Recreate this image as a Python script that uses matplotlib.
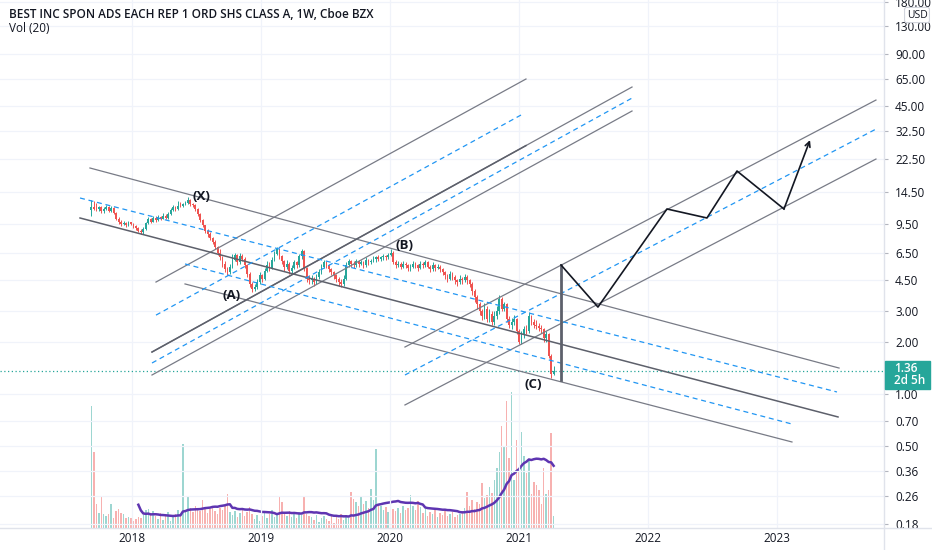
import numpy as np
import pandas as pd
import matplotlib
matplotlib.use("Agg")
import matplotlib.pyplot as plt
from matplotlib.ticker import FuncFormatter, NullLocator, FixedLocator
from matplotlib.patches import Rectangle
from matplotlib.lines import Line2D

plt.rcParams['font.family'] = ['Open Sans', 'DejaVu Sans']

GREEN = "#26a69a"
RED = "#ef5350"
GRAY = "#787b86"
BLUE = "#2196f3"
TXT = "#131722"

# -------------------------------
# weekly candles, BEST (USD), first bar 2017-09-08
# -------------------------------
start_date = "2017-09-08"
first_open = 11.4

close = [11.9, 11.6, 11.5, 11.8, 11.2, 11.6, 11.9, 11.3, 11.7, 11.0,
         10.2, 9.8, 9.5, 9.6, 9.3, 9.7, 9.5, 9.2, 9.0, 8.7,
         8.5, 8.9, 9.6, 10.1, 9.8, 10.3, 10.0, 10.4, 10.2, 10.6,
         10.3, 10.8, 11.4, 11.9, 11.5, 12.1, 12.0, 12.4, 12.6, 13.0,
         12.3, 12.2, 11.6, 10.8, 10.0, 9.3, 8.6, 8.3, 7.9, 7.5,
         7.0, 6.5, 6.1, 5.6, 5.2, 5.0, 5.4, 5.9, 6.3, 5.7,
         6.2, 6.0, 5.5, 4.9, 4.3, 4.0, 4.1, 4.4, 4.8, 4.6,
         5.1, 5.5, 5.3, 5.9, 6.4, 6.8, 6.2, 5.8, 5.4, 5.6,
         5.1, 5.3, 5.7, 5.5, 6.2, 6.6, 5.3, 4.6, 4.5, 4.6,
         4.4, 4.7, 5.0, 5.4, 5.7, 5.5, 5.2, 5.0, 4.8, 4.6,
         4.4, 4.3, 4.6, 5.5, 5.8, 5.6, 5.5, 5.8, 5.6, 5.7,
         5.5, 5.9, 5.7, 5.8, 6.0, 6.1, 6.0, 6.1, 6.2, 6.1,
         6.3, 6.5, 5.7, 5.5, 5.6, 5.4, 5.6, 5.5, 5.3, 5.4,
         5.6, 5.5, 5.3, 5.6, 5.5, 5.7, 5.4, 5.2, 5.5, 5.3,
         5.4, 5.2, 5.0, 4.8, 4.6, 4.9, 4.7, 4.5, 4.4, 4.6,
         4.5, 4.7, 4.5, 4.3, 3.9, 3.6, 3.3, 3.0, 2.8, 3.1,
         2.7, 2.9, 2.6, 2.8, 3.0, 3.5, 3.1, 3.3, 2.7, 2.5,
         2.6, 2.7, 2.3, 2.0, 2.2, 2.35, 2.3, 2.8, 2.6, 2.5,
         2.45, 2.4, 2.35, 2.1, 2.2, 1.65, 1.3, 1.36]

high = [13.0, 12.9, 12.5, 12.1, 12.0, 11.9, 12.2, 12.0, 12.0, 11.8,
        11.1, 10.4, 10.0, 9.9, 9.8, 9.9, 9.8, 9.6, 9.3, 9.1,
        8.9, 9.1, 9.8, 10.4, 10.3, 10.6, 10.5, 10.7, 10.6, 10.9,
        10.8, 11.1, 11.7, 12.2, 12.1, 12.8, 12.7, 12.6, 12.9, 13.6,
        13.2, 12.6, 12.3, 11.7, 11.0, 10.2, 9.4, 8.9, 8.5, 8.0,
        7.7, 7.1, 6.8, 6.2, 5.8, 5.4, 5.6, 6.4, 6.5, 6.4,
        6.5, 6.4, 6.1, 5.6, 5.0, 4.4, 4.3, 4.6, 5.0, 4.9,
        5.3, 5.8, 5.7, 6.1, 6.6, 7.0, 6.9, 6.3, 5.9, 5.9,
        5.7, 5.5, 5.9, 5.8, 6.4, 6.8, 6.7, 5.4, 4.8, 4.8,
        4.7, 4.9, 5.2, 5.6, 5.9, 5.8, 5.6, 5.3, 5.1, 4.9,
        4.7, 4.6, 4.8, 5.7, 6.0, 5.9, 5.8, 6.0, 5.9, 5.9,
        5.8, 6.1, 6.0, 6.0, 6.2, 6.2, 6.3, 6.2, 6.4, 6.3,
        6.5, 6.8, 6.6, 5.9, 5.8, 5.7, 5.8, 5.7, 5.6, 5.6,
        5.8, 5.7, 5.6, 5.8, 5.7, 5.9, 5.8, 5.5, 5.7, 5.6,
        5.6, 5.5, 5.3, 5.1, 4.9, 5.1, 5.0, 4.8, 4.6, 4.8,
        4.7, 4.9, 4.8, 4.6, 4.4, 4.0, 3.7, 3.4, 3.1, 3.35,
        3.2, 3.1, 3.0, 3.0, 3.2, 3.7, 3.6, 3.4, 3.35, 2.8,
        2.75, 2.85, 2.75, 2.35, 2.3, 2.45, 2.5, 2.95, 2.85, 2.7,
        2.65, 2.55, 2.5, 2.4, 2.3, 2.25, 1.7, 1.45]

low = [10.6, 11.4, 11.2, 11.2, 11.0, 11.0, 11.4, 11.1, 11.1, 10.8,
       10.0, 9.5, 9.2, 9.3, 9.1, 9.2, 9.3, 9.0, 8.8, 8.5,
       8.3, 8.3, 8.8, 9.5, 9.6, 9.7, 9.8, 9.9, 10.0, 10.1,
       10.1, 10.2, 10.7, 11.2, 11.3, 11.4, 11.9, 11.8, 12.2, 12.4,
       12.1, 11.8, 11.3, 10.5, 9.7, 9.1, 8.4, 8.0, 7.7, 7.3,
       6.8, 6.3, 5.9, 5.4, 5.0, 4.8, 4.9, 5.3, 5.8, 5.5,
       5.6, 5.8, 5.3, 4.7, 4.1, 3.85, 3.9, 4.0, 4.3, 4.4,
       4.5, 5.0, 5.1, 5.2, 5.8, 6.3, 6.0, 5.6, 5.1, 5.2,
       4.9, 4.9, 5.2, 5.3, 5.4, 6.0, 5.1, 4.4, 4.3, 4.3,
       4.2, 4.3, 4.6, 4.9, 5.3, 5.3, 5.0, 4.8, 4.6, 4.4,
       4.2, 4.1, 4.2, 4.5, 5.4, 5.4, 5.3, 5.4, 5.4, 5.5,
       5.3, 5.4, 5.5, 5.6, 5.7, 5.7, 5.8, 5.8, 5.9, 5.9,
       6.0, 6.2, 5.6, 5.3, 5.4, 5.2, 5.3, 5.3, 5.1, 5.1,
       5.3, 5.3, 5.1, 5.2, 5.3, 5.4, 5.3, 5.0, 5.1, 5.1,
       5.2, 5.0, 4.8, 4.6, 4.4, 4.5, 4.5, 4.3, 4.2, 4.3,
       4.3, 4.4, 4.3, 4.1, 3.7, 3.4, 3.1, 2.85, 2.65, 2.7,
       2.6, 2.6, 2.5, 2.5, 2.7, 2.9, 3.0, 3.0, 2.6, 2.4,
       2.35, 2.5, 2.2, 1.93, 1.95, 2.1, 2.2, 2.25, 2.5, 2.4,
       2.35, 2.3, 2.25, 2.0, 2.0, 1.6, 1.24, 1.28]

# weekly volume, millions of shares
volume = [12.2, 7.6, 2.4, 1.5, 3.1, 1.4, 1.2, 1.4, 2.4, 1.0,
          1.7, 1.9, 1.5, 1.4, 1.0, 1.1, 1.0, 0.7, 0.9, 1.1,
          1.0, 1.3, 1.8, 1.9, 1.5, 1.7, 1.2, 0.9, 1.5, 0.8,
          1.2, 1.6, 0.7, 1.1, 1.4, 1.8, 1.2, 8.4, 1.8, 3.1,
          2.0, 1.6, 2.2, 1.9, 1.7, 2.8, 2.1, 1.5, 1.9, 2.2,
          1.7, 1.4, 2.0, 1.8, 2.3, 3.4, 1.6, 1.3, 1.7, 1.1,
          1.5, 1.9, 1.2, 1.6, 2.1, 1.4, 0.9, 1.3, 0.7, 1.2,
          1.6, 1.0, 1.4, 1.8, 1.1, 1.3, 3.2, 2.6, 1.5, 1.2,
          1.7, 1.1, 1.4, 1.0, 1.6, 1.3, 3.2, 1.4, 1.2, 1.1,
          0.8, 1.3, 0.6, 1.0, 1.2, 0.9, 0.7, 1.3, 0.5, 1.1,
          0.9, 1.4, 0.8, 1.2, 1.0, 3.6, 2.9, 2.6, 2.2, 3.1,
          2.4, 2.7, 2.0, 3.9, 2.8, 7.9, 2.4, 2.2, 1.8, 2.1,
          1.6, 2.3, 1.9, 1.7, 2.0, 1.5, 2.2, 1.8, 2.0, 3.3,
          2.2, 1.8, 2.7, 2.1, 1.5, 1.9, 1.2, 1.6, 1.4, 1.8,
          1.1, 1.5, 1.3, 1.7, 1.2, 1.4, 1.6, 1.1, 1.3, 1.4,
          1.7, 2.0, 3.6, 2.2, 2.8, 1.9, 2.6, 2.4, 4.5, 3.0,
          3.3, 4.1, 3.5, 4.8, 6.0, 7.6, 10.2, 8.1, 12.7, 7.0,
          13.6, 4.8, 8.8, 5.9, 9.6, 7.2, 5.5, 6.9, 3.4, 4.6,
          4.3, 3.8, 2.4, 6.0, 3.4, 3.8, 9.5, 1.2]

ma_len = 20
last_price = 1.36

# price scale ticks (right side)
price_ticks = [180, 130, 90, 65, 45, 32.5, 22.5, 14.5, 9.5, 6.5, 4.5,
               3, 2, 1, 0.7, 0.5, 0.36, 0.26, 0.18]
year_ticks = [2018, 2019, 2020, 2021, 2022, 2023]

# -------------------------------
# drawings: (decimal year, price) anchor pairs
# -------------------------------
down_solid = [((2017.674, 19.9), (2023.481, 1.41)),
              ((2018.411, 4.29), (2023.116, 0.530))]
down_mid = [((2017.597, 10.27), (2023.473, 0.738))]
down_dash = [((2017.597, 13.38), (2023.465, 1.027)),
             ((2018.411, 5.59), (2023.116, 0.672))]

up1_solid = [((2018.186, 4.40), (2021.054, 64.6)),
             ((2018.155, 1.286), (2021.876, 42.3)),
             ((2018.155, 1.743), (2021.876, 58.1))]
up1_mid = [((2018.155, 1.743), (2021.054, 26.77))]
up1_dash = [((2018.186, 2.84), (2021.031, 40.7)),
            ((2018.155, 1.507), (2021.876, 50.2))]

up2_solid = [((2020.116, 1.862), (2023.767, 48.9)),
             ((2020.116, 0.865), (2023.767, 22.4))]
up2_dash = [((2020.116, 1.286), (2023.767, 33.3))]

drop_line = ((2021.326, 5.51), (2021.326, 1.20))
path_t = [2021.326, 2021.612, 2022.147, 2022.457, 2022.690, 2023.054, 2023.256]
path_p = [5.51, 3.16, 11.57, 10.27, 19.12, 11.57, 28.8]

wave_labels = ["(X)", "(A)", "(B)", "(C)"]
wave_t = [2018.535, 2018.775, 2020.109, 2021.109]
wave_p = [13.56, 3.66, 7.18, 1.14]

# -------------------------------
# prepare
# -------------------------------
close = np.array(close)
high = np.array(high)
low = np.array(low)
volume = np.array(volume)
open_ = np.concatenate([[first_open], close[:-1]])

dates = pd.date_range(start_date, periods=len(close), freq="7D")
t = dates.year + (dates.dayofyear - 1) / np.where(dates.is_leap_year, 366, 365)
t = np.asarray(t, dtype=float)
week = 7 / 365.25

vol_ma = pd.Series(volume).rolling(ma_len).mean()
up = close >= open_
colors = np.where(up, GREEN, RED)

W, H = 932, 550
fig = plt.figure(figsize=(W / 100, H / 100), dpi=100)
fig.patch.set_facecolor("white")

plot_right = 884 / W
plot_bottom = 1 - 528 / H
x_lo = 2018 - 132 / 129
x_hi = 2018 + (884 - 132) / 129
y_hi = 10 ** (394 / 174)
y_lo = 10 ** (-(528 - 394) / 174)

# volume pane (behind)
axv = fig.add_axes([0, plot_bottom, plot_right, 140 / H], zorder=0)
axv.bar(t, volume, width=0.6 * week, color=colors, alpha=0.45, linewidth=0)
axv.plot(t, vol_ma, color="#5e35b1", lw=1.8)
axv.set_xlim(x_lo, x_hi)
axv.set_ylim(0, 14.0)
axv.axis("off")

# price pane
ax = fig.add_axes([0, plot_bottom, plot_right, 1 - plot_bottom], zorder=1)
ax.patch.set_alpha(0)
ax.set_yscale("log")
ax.set_xlim(x_lo, x_hi)
ax.set_ylim(y_lo, y_hi)

for x in year_ticks:
    ax.axvline(x, color="#f0f3fa", lw=0.9, zorder=0)
for p in price_ticks:
    ax.axhline(p, color="#f0f3fa", lw=0.9, zorder=0)

ax.vlines(t, low, high, colors=colors, lw=0.7, zorder=3)
ax.bar(t, np.abs(close - open_), bottom=np.minimum(open_, close),
       width=0.7 * week, color=colors, linewidth=0, zorder=3)


def seg(pair, **kw):
    (x0, y0), (x1, y1) = pair
    ax.plot([x0, x1], [y0, y1], **kw)


for s in down_solid + up1_solid + up2_solid:
    seg(s, color=GRAY, lw=0.9, zorder=4)
for s in down_mid + up1_mid:
    seg(s, color="#5d606b", lw=1.1, zorder=4)
for s in down_dash + up1_dash + up2_dash:
    seg(s, color=BLUE, lw=0.9, dashes=(4, 3), zorder=4)

seg(drop_line, color="#5d606b", lw=2.0, zorder=5)
ax.plot(path_t[:-1], path_p[:-1], color="#131722", lw=1.2, zorder=5)
ax.annotate("", xy=(path_t[-1], path_p[-1]), xytext=(path_t[-2], path_p[-2]),
            arrowprops=dict(arrowstyle="->", color="#131722", lw=1.2,
                            shrinkA=0, shrinkB=0, mutation_scale=9), zorder=5)

for lab, x, y in zip(wave_labels, wave_t, wave_p):
    ax.text(x, y, lab, ha="center", va="center", fontsize=9.5,
            fontweight="bold", color=TXT, zorder=6)

ax.axhline(last_price, color=GREEN, lw=0.9, ls=(0, (1, 2)), zorder=2)

# axes styling
ax.yaxis.tick_right()
ax.yaxis.set_major_locator(FixedLocator(price_ticks))
ax.yaxis.set_minor_locator(NullLocator())
ax.yaxis.set_major_formatter(FuncFormatter(lambda v, _: f"{v:.2f}"))
ax.set_xticks(year_ticks)
ax.set_xticklabels([str(y) for y in year_ticks])
ax.xaxis.set_minor_locator(NullLocator())
ax.tick_params(axis="y", length=3, color="#b2b5be", labelsize=8.5,
               labelcolor=TXT, pad=5)
ax.tick_params(axis="x", length=0, labelsize=8.5, labelcolor=TXT, pad=3)
for side in ["top", "left", "right", "bottom"]:
    ax.spines[side].set_visible(False)

fig.add_artist(Line2D([plot_right, plot_right], [0, 1], color="#e0e3eb", lw=1,
                      transform=fig.transFigure))
fig.add_artist(Line2D([0, 1], [plot_bottom, plot_bottom], color="#e0e3eb", lw=1,
                      transform=fig.transFigure))

# last price tag
fig.add_artist(Rectangle((885 / W, 1 - 389 / H), 45 / W, 28 / H, color=GREEN,
                         transform=fig.transFigure, zorder=10))
fig.text(894 / W, 1 - 369 / H, f"{last_price:.2f}", color="white", fontsize=8.5,
         fontweight="semibold", va="center", ha="left", zorder=11)
fig.text(894 / W, 1 - 381 / H, "2d 5h", color="white", fontsize=8.5,
         fontweight="semibold", va="center", ha="left", zorder=11)

fig.text(917 / W, 1 - 15 / H, "USD", ha="center", va="center", fontsize=7.5,
         color=TXT, zorder=12, bbox=dict(boxstyle="round,pad=0.2", fc="white",
                                         ec="#d1d4dc", lw=0.8))

fig.text(9 / W, 1 - 14 / H, "BEST INC SPON ADS EACH REP 1 ORD SHS CLASS A, 1W, Cboe BZX",
         fontsize=8.5, fontweight="semibold", color=TXT, va="center", ha="left")
fig.text(9 / W, 1 - 29 / H, "Vol (20)", fontsize=8.5, color=TXT,
         va="center", ha="left")

fig.savefig("out.png", dpi=100, facecolor="white")
